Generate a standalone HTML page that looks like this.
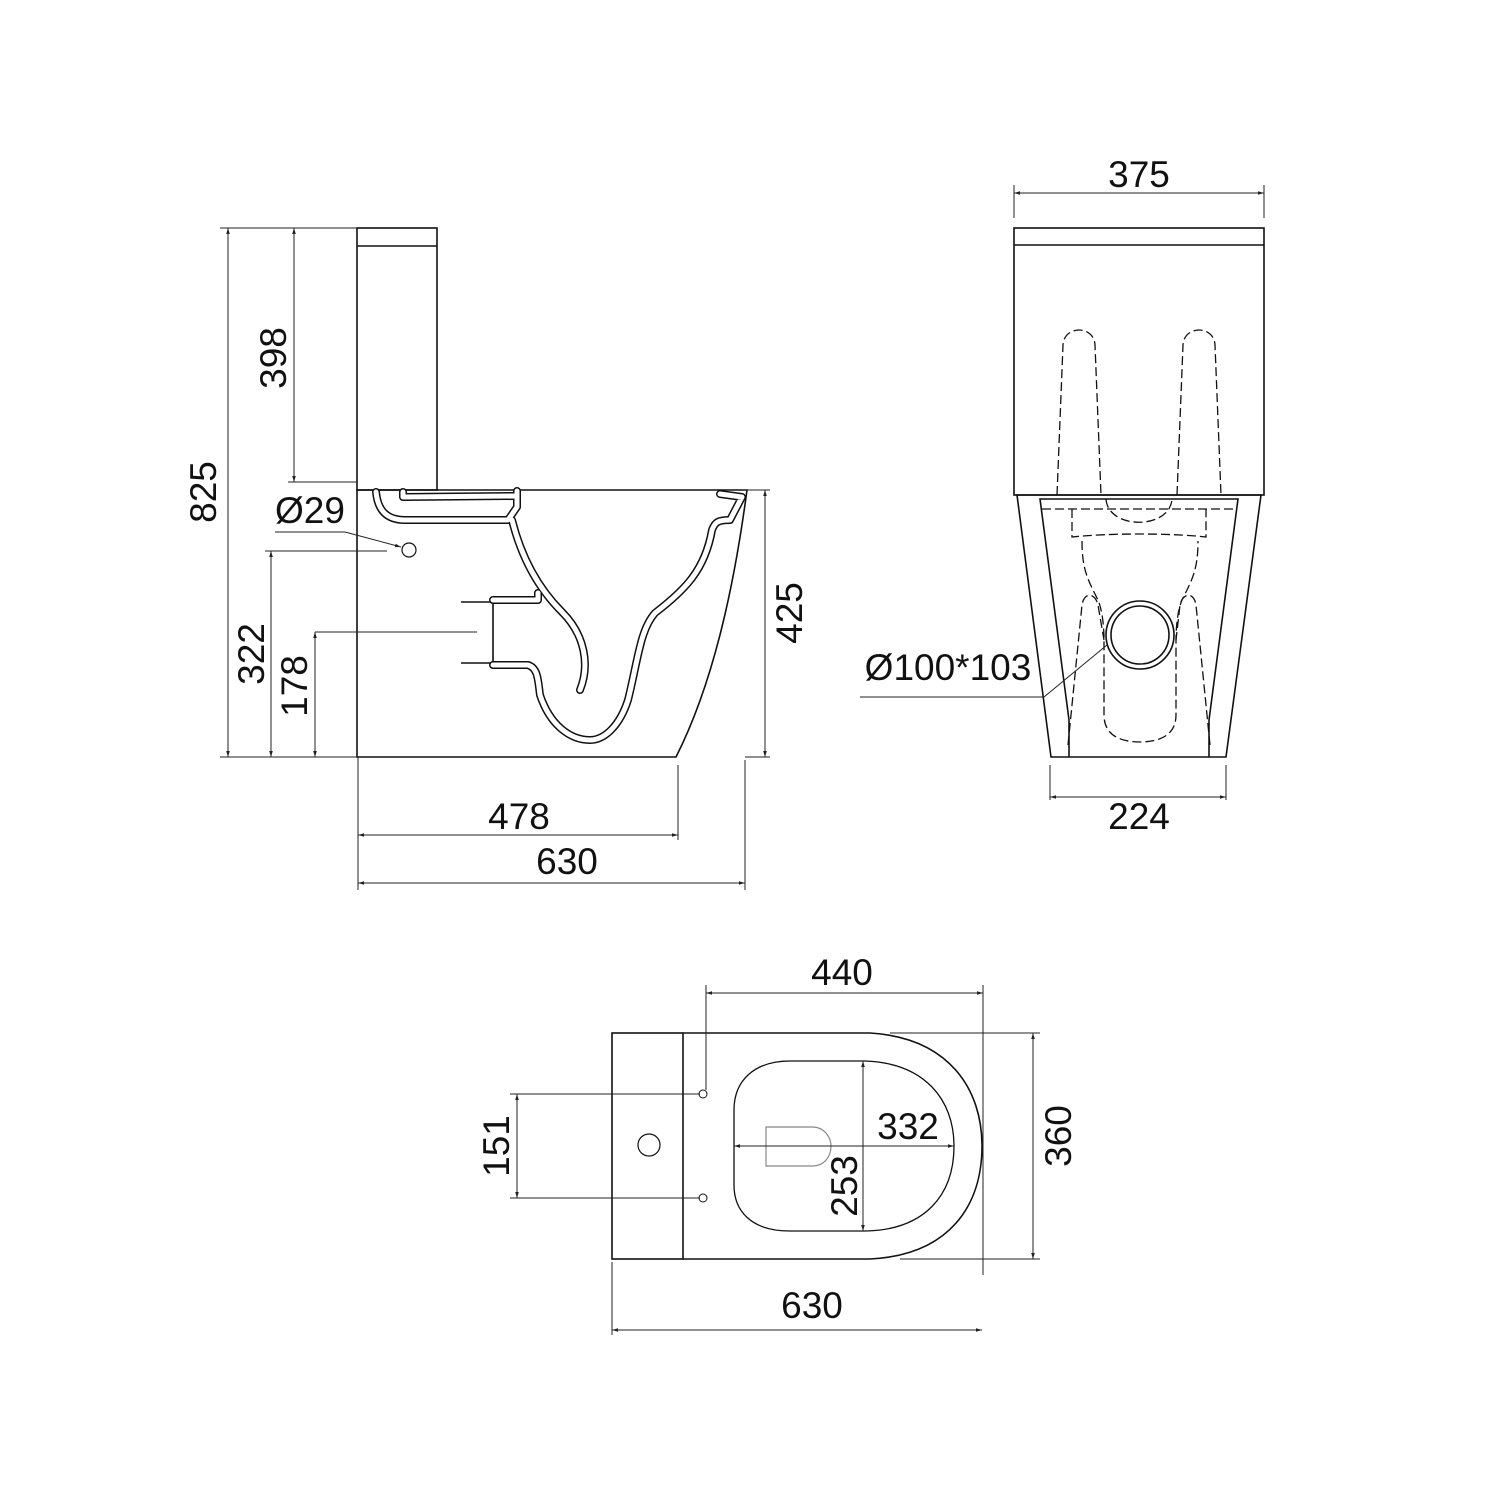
<!DOCTYPE html>
<html><head><meta charset="utf-8"><style>body{margin:0;background:#fff}svg{display:block}text{font-family:"Liberation Sans",sans-serif;font-size:37px;fill:#111}</style></head><body>
<svg width="1500" height="1500" viewBox="0 0 1500 1500" xmlns="http://www.w3.org/2000/svg">
<defs><marker id="a" viewBox="0 0 10 10" refX="10" refY="5" markerWidth="6" markerHeight="6" orient="auto-start-reverse"><path d="M0,2 L10,5 L0,8z" fill="#222"/></marker></defs>
<g fill="none" stroke="#111" stroke-width="1.6">
<rect x="357" y="228" width="80" height="262"/>
<line x1="357" y1="246" x2="437" y2="246"/>
<path d="M357,490 L747,490 C735,580 715,680 676,757 L357,757 Z"/>
<circle cx="409" cy="550" r="7" stroke-width="1.2"/>
<path d="M461,602 L493,602 L493,663 L461,663"/>
</g>
<g fill="none" stroke-linejoin="round" stroke-linecap="round">
<g stroke="#111" stroke-width="8">
<path d="M376,492 C378,512 388,520 405,520 L508,520 L517,507 L517,491"/>
<path d="M403,492 L403,497 L515,496"/>
<path d="M512,520 C522,560 540,590 562,612 C585,635 590,665 580,690"/>
<path d="M493,600 L538,600 L538,593"/>
<path d="M493,665 L528,665 C538,668 538,680 540,695 C550,725 570,740 590,740 C605,740 620,725 628,700 C638,660 640,630 655,613 C685,590 705,570 712,530 C715,522 718,520 730,520 L742,497 L720,494"/>
</g>
<g stroke="#fff" stroke-width="5">
<path d="M376,492 C378,512 388,520 405,520 L508,520 L517,507 L517,491"/>
<path d="M403,492 L403,497 L515,496"/>
<path d="M512,520 C522,560 540,590 562,612 C585,635 590,665 580,690"/>
<path d="M493,600 L538,600 L538,593"/>
<path d="M493,665 L528,665 C538,668 538,680 540,695 C550,725 570,740 590,740 C605,740 620,725 628,700 C638,660 640,630 655,613 C685,590 705,570 712,530 C715,522 718,520 730,520 L742,497 L720,494"/>
</g>
</g>
<g fill="none" stroke="#222" stroke-width="1">
<line x1="220" y1="228" x2="357" y2="228"/>
<line x1="220" y1="757" x2="357" y2="757"/>
<line x1="228" y1="228" x2="228" y2="757" marker-start="url(#a)" marker-end="url(#a)"/>
<line x1="294" y1="228" x2="294" y2="482" marker-start="url(#a)" marker-end="url(#a)"/>
<line x1="288" y1="482" x2="357" y2="482"/>
<line x1="271" y1="551" x2="271" y2="757" marker-start="url(#a)" marker-end="url(#a)"/>
<line x1="265" y1="551" x2="387" y2="551"/>
<line x1="315" y1="632" x2="315" y2="757" marker-start="url(#a)" marker-end="url(#a)"/>
<line x1="315" y1="632" x2="477" y2="632"/>
<line x1="275" y1="532" x2="345" y2="532"/>
<line x1="345" y1="532" x2="401" y2="547" marker-end="url(#a)"/>
<line x1="765" y1="490" x2="765" y2="757" marker-start="url(#a)" marker-end="url(#a)"/>
<line x1="745" y1="490" x2="770" y2="490"/>
<line x1="745" y1="757" x2="770" y2="757"/>
<line x1="358" y1="757" x2="358" y2="890"/>
<line x1="678" y1="765" x2="678" y2="840"/>
<line x1="745" y1="760" x2="745" y2="890"/>
<line x1="358" y1="835" x2="678" y2="835" marker-start="url(#a)" marker-end="url(#a)"/>
<line x1="358" y1="883" x2="745" y2="883" marker-start="url(#a)" marker-end="url(#a)"/>
</g>
<text x="519" y="829" text-anchor="middle">478</text>
<text x="567" y="874" text-anchor="middle">630</text>
<text x="310" y="523" text-anchor="middle">Ø29</text>
<text transform="translate(216,492) rotate(-90)" text-anchor="middle">825</text>
<text transform="translate(286,358) rotate(-90)" text-anchor="middle">398</text>
<text transform="translate(264,654) rotate(-90)" text-anchor="middle">322</text>
<text transform="translate(307,686) rotate(-90)" text-anchor="middle">178</text>
<text transform="translate(802,613) rotate(-90)" text-anchor="middle">425</text>
<g fill="none" stroke="#111" stroke-width="1.6">
<rect x="1014" y="228" width="250" height="267"/>
<line x1="1014" y1="245" x2="1264" y2="245"/>
<path d="M1017,495 L1261,495 L1226,757 L1051,757 Z"/>
<path d="M1069,757 L1069,720 L1040,499 L1238,499 L1209,720 L1209,757"/>
<circle cx="1140" cy="635" r="34"/>
<circle cx="1140" cy="635" r="29"/>
</g>
<g fill="none" stroke="#111" stroke-width="1.3" stroke-dasharray="9,4">
<path d="M1057,495 L1063,345 C1064,325 1094,325 1095,345 L1101,495"/>
<path d="M1177,495 L1183,345 C1184,325 1214,325 1215,345 L1221,495"/>
<path d="M1042,509 L1236,509"/>
<path d="M1072,509 L1072,537 C1110,533 1170,533 1206,537 L1206,509"/>
<path d="M1106,499 C1108,530 1170,530 1172,499"/>
<path d="M1082,541 C1082,570 1088,580 1098,600 C1103,612 1104,630 1104,640 L1104,715 C1104,735 1120,742 1140,742 C1160,742 1176,735 1176,715 L1176,640 C1176,630 1177,612 1182,600 C1192,580 1198,570 1198,541"/>
<path d="M1068,745 L1082,605 C1084,592 1095,592 1098,605 L1104,640"/>
<path d="M1210,745 L1196,605 C1194,592 1183,592 1180,605 L1176,640"/>
</g>
<g fill="none" stroke="#222" stroke-width="1">
<line x1="1014" y1="185" x2="1014" y2="218"/>
<line x1="1264" y1="185" x2="1264" y2="218"/>
<line x1="1014" y1="193" x2="1264" y2="193" marker-start="url(#a)" marker-end="url(#a)"/>
<line x1="1050" y1="765" x2="1050" y2="800"/>
<line x1="1226" y1="765" x2="1226" y2="800"/>
<line x1="1050" y1="797" x2="1226" y2="797" marker-start="url(#a)" marker-end="url(#a)"/>
<path d="M860,697 L1044,697 L1107,645"/>
</g>
<text x="1139" y="187" text-anchor="middle">375</text>
<text x="1139" y="829" text-anchor="middle">224</text>
<text x="948" y="680" text-anchor="middle">Ø100*103</text>
<g fill="none" stroke="#111" stroke-width="1.6">
<rect x="612" y="1033" width="71" height="226"/>
<path d="M683,1033 L870,1033 C950,1038 982,1090 982,1146 C982,1205 950,1255 870,1259 L683,1259"/>
<path d="M790,1061 L865,1061 C925,1063 954,1100 954,1146 C954,1195 925,1230 865,1231 L790,1231 C750,1231 734,1210 734,1185 L734,1110 C734,1080 755,1061 790,1061 Z" stroke-width="1.3"/>
<circle cx="649" cy="1145" r="11" stroke-width="1.2"/>
<circle cx="703" cy="1094" r="4" stroke-width="1"/>
<circle cx="703" cy="1198" r="4" stroke-width="1"/>
</g>
<path d="M766,1127 L812,1127 C825,1127 831,1138 831,1146 C831,1156 825,1166 812,1166 L766,1166 Z" fill="none" stroke="#888" stroke-width="1.2"/>
<g fill="none" stroke="#222" stroke-width="1">
<line x1="734" y1="1146" x2="954" y2="1146" marker-start="url(#a)" marker-end="url(#a)"/>
<line x1="863" y1="1061" x2="863" y2="1231" marker-start="url(#a)" marker-end="url(#a)"/>
<line x1="706" y1="985" x2="706" y2="1090"/>
<line x1="983" y1="985" x2="983" y2="1275"/>
<line x1="706" y1="993" x2="983" y2="993" marker-start="url(#a)" marker-end="url(#a)"/>
<line x1="890" y1="1033" x2="1040" y2="1033"/>
<line x1="900" y1="1259" x2="1040" y2="1259"/>
<line x1="1033" y1="1033" x2="1033" y2="1259" marker-start="url(#a)" marker-end="url(#a)"/>
<line x1="510" y1="1094" x2="700" y2="1094"/>
<line x1="510" y1="1198" x2="700" y2="1198"/>
<line x1="517" y1="1094" x2="517" y2="1198" marker-start="url(#a)" marker-end="url(#a)"/>
<line x1="612" y1="1262" x2="612" y2="1335"/>
<line x1="612" y1="1330" x2="982" y2="1330" marker-start="url(#a)" marker-end="url(#a)"/>
</g>
<text x="842" y="985" text-anchor="middle">440</text>
<text x="908" y="1139" text-anchor="middle">332</text>
<text x="812" y="1318" text-anchor="middle">630</text>
<text transform="translate(857,1186) rotate(-90)" text-anchor="middle">253</text>
<text transform="translate(1071,1136) rotate(-90)" text-anchor="middle">360</text>
<text transform="translate(509,1146) rotate(-90)" text-anchor="middle">151</text>
</svg>
</body></html>
